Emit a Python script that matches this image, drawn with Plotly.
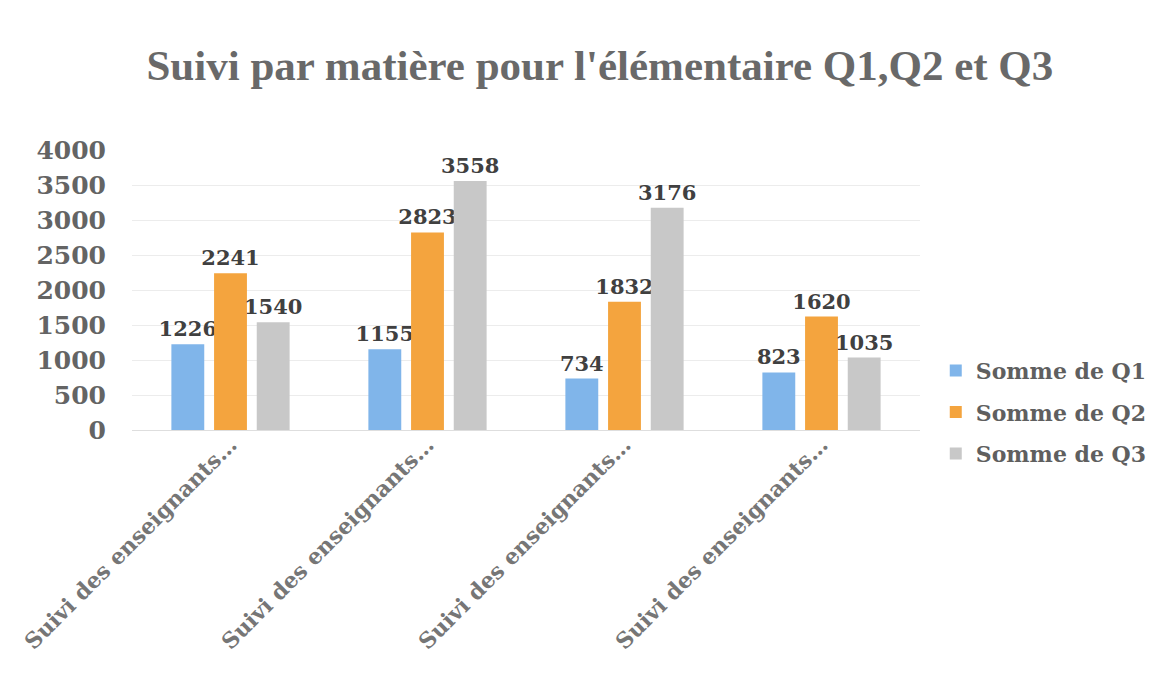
import plotly.graph_objects as go

title = "Suivi par matière pour l'élémentaire Q1,Q2 et Q3"

# four subjects, all shown with the same truncated label
tick_labels = ["Suivi des enseignants…"] * 4
positions = [0, 1, 2, 3]

series_names = ["Somme de Q1", "Somme de Q2", "Somme de Q3"]
q1 = [1226, 1155, 734, 823]
q2 = [2241, 2823, 1832, 1620]
q3 = [1540, 3558, 3176, 1035]

colors = ["rgb(128, 181, 234)", "rgb(244, 164, 62)", "rgb(200, 200, 200)"]

fig = go.Figure()

for name, vals, color in zip(series_names, [q1, q2, q3], colors):
    fig.add_trace(go.Bar(
        x=positions,
        y=vals,
        name=name,
        legendgroup=name,
        marker=dict(color=color, line=dict(width=0)),
        text=[str(v) for v in vals],
        textposition='outside',
        constraintext='none',
        cliponaxis=False,
        textfont=dict(family='DejaVu Serif', size=21, color='rgb(64, 64, 64)', weight='bold'),
    ))

fig.update_layout(
    width=1172,
    height=681,
    paper_bgcolor='white',
    plot_bgcolor='white',
    barmode='group',
    bargap=0.35,
    bargroupgap=0.23,
    margin=dict(l=117, r=260, t=142, b=259),
    title=dict(
        text=title,
        x=0.505,
        y=1 - 57 / 681,
        xref='container',
        yref='container',
        xanchor='center',
        yanchor='middle',
        font=dict(family='Liberation Serif', size=43, color='rgb(105, 105, 105)', weight='bold'),
    ),
    xaxis=dict(
        tickvals=positions,
        ticktext=tick_labels,
        tickangle=-45,
        tickfont=dict(family='DejaVu Serif', size=22, color='rgb(118, 118, 118)', weight='bold'),
        ticklabelstandoff=-8,
        showgrid=False,
        showline=True,
        linecolor='rgb(222, 222, 222)',
        linewidth=1,
        range=[-0.5, 3.5],
    ),
    yaxis=dict(
        range=[0, 4000],
        tickvals=[0, 500, 1000, 1500, 2000, 2500, 3000, 3500, 4000],
        tickfont=dict(family='DejaVu Serif', size=25, color='rgb(100, 100, 100)', weight='bold'),
        ticklabelstandoff=25,
        gridcolor='rgb(236, 236, 236)',
        gridwidth=1,
        zeroline=False,
        showline=False,
    ),
    showlegend=True,
    legend=dict(
        x=1.02,
        y=0.064,
        xanchor='left',
        yanchor='middle',
        font=dict(family='DejaVu Serif', size=22, color='rgb(95, 95, 95)', weight='bold'),
        itemwidth=30,
        tracegroupgap=10,
    ),
)

fig.write_html("out.html")
